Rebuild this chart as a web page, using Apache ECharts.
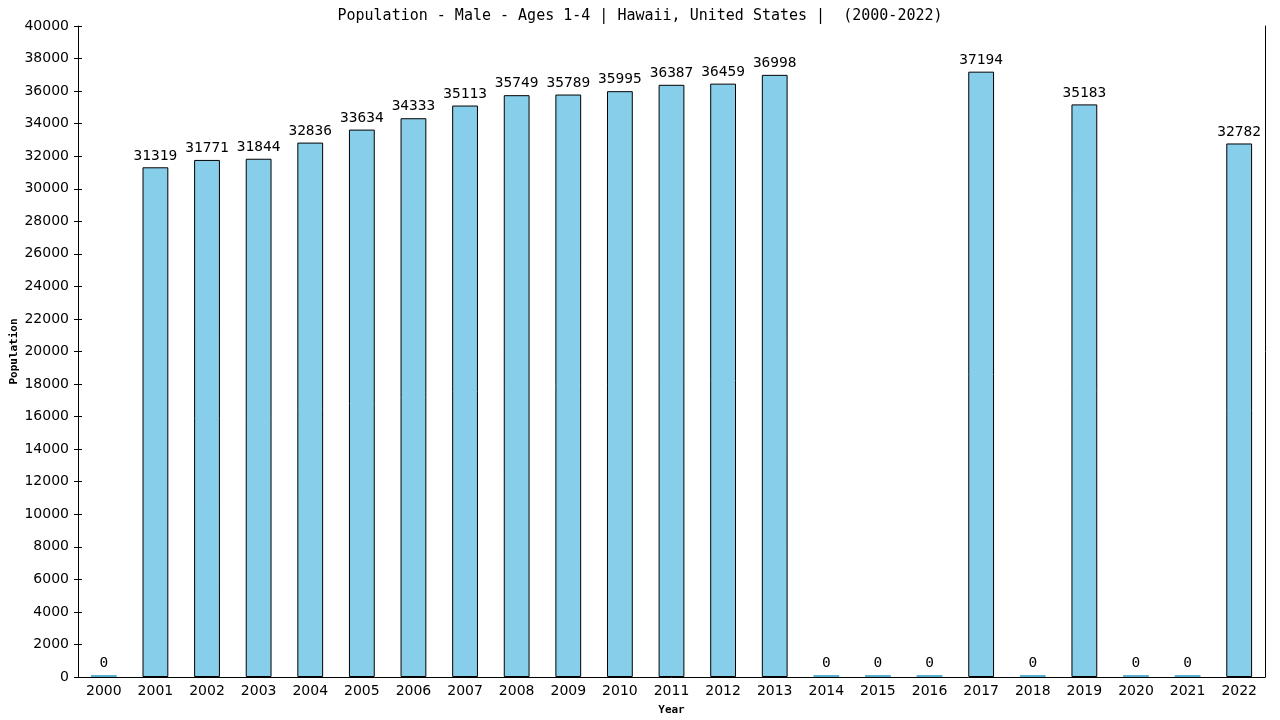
<!DOCTYPE html>
<html>
<head>
    <meta charset="utf-8">
    <title>Population - Male - Ages 1-4</title>
    <script src="https://cdn.jsdelivr.net/npm/echarts@6/dist/echarts.min.js"></script>
</head>
<body style="margin:0;background-color:#fff;">
    <div id="main" style="width:1280px;height:720px;"></div>
    <script type="text/javascript">
        // 年份
        var years = ['2000', '2001', '2002', '2003', '2004', '2005', '2006', '2007', '2008', '2009', '2010', '2011',
            '2012', '2013', '2014', '2015', '2016', '2017', '2018', '2019', '2020', '2021', '2022'];

        // 人口
        var population = [0, 31319, 31771, 31844, 32836, 33634, 34333, 35113, 35749, 35789, 35995, 36387,
            36459, 36998, 0, 0, 0, 37194, 0, 35183, 0, 0, 32782];

        // 纵轴范围
        var yMin = 0;
        var yMax = 40000;
        var yStep = 2000;

        var monoFont = 'DejaVu Sans Mono';
        var axisFont = 'DejaVu Sans';

        var myChart = echarts.init(document.getElementById('main'));

        // 为 0 的年份只画一条浅蓝细线
        var barData = population.map(function (v) {
            if (v === 0) {
                return { value: v, itemStyle: { borderWidth: 0, color: '#5aaed0' } };
            }
            return v;
        });

        var option = {
            animation: false,
            backgroundColor: '#fff',
            title: {
                text: 'Population - Male - Ages 1-4 | Hawaii, United States |  (2000-2022)',
                left: 'center',
                top: 4,
                textStyle: { fontFamily: monoFont, fontSize: 15, fontWeight: 'normal', color: '#000' }
            },
            grid: {
                left: 78,
                right: 15,
                top: 26,
                bottom: 43,
                outerBoundsMode: 'none'
            },
            xAxis: {
                type: 'category',
                data: years,
                name: 'Year',
                nameLocation: 'middle',
                nameGap: 28,
                nameMoveOverlap: false,
                nameTextStyle: { fontFamily: monoFont, fontSize: 11, fontWeight: 'bold', color: '#000' },
                axisLine: { lineStyle: { color: '#000', width: 1 } },
                axisTick: { show: false },
                axisLabel: { fontFamily: axisFont, fontSize: 14, color: '#000', margin: 7, interval: 0 }
            },
            yAxis: [
                {
                    type: 'value',
                    min: yMin,
                    max: yMax,
                    interval: yStep,
                    name: 'Population',
                    nameLocation: 'middle',
                    nameGap: 58,
                    nameMoveOverlap: false,
                    nameTextStyle: { fontFamily: monoFont, fontSize: 11, fontWeight: 'bold', color: '#000' },
                    axisLine: { show: true, lineStyle: { color: '#000', width: 1 } },
                    axisTick: { show: true, length: 4, lineStyle: { color: '#000' } },
                    axisLabel: {
                        fontFamily: axisFont, fontSize: 14, color: '#000', margin: 9,
                        formatter: function (v) { return String(v); }
                    },
                    splitLine: { show: false }
                },
                {
                    type: 'value',
                    position: 'left',
                    min: yMin,
                    max: yMax,
                    interval: yStep,
                    axisLine: { show: false },
                    axisTick: { show: true, inside: true, length: 4, lineStyle: { color: '#000' } },
                    axisLabel: { show: false },
                    splitLine: { show: false }
                },
                {
                    type: 'value',
                    position: 'right',
                    min: yMin,
                    max: yMax,
                    interval: yStep,
                    axisLine: { show: true, lineStyle: { color: '#000', width: 1 } },
                    axisTick: { show: false },
                    axisLabel: { show: false },
                    splitLine: { show: false }
                }
            ],
            series: [
                {
                    name: 'Population',
                    type: 'bar',
                    data: barData,
                    barWidth: '50%',
                    barMinHeight: 2,
                    itemStyle: { color: '#87ceeb', borderColor: '#000', borderWidth: 1 },
                    label: {
                        show: true,
                        position: 'top',
                        distance: 4,
                        fontFamily: monoFont,
                        fontSize: 14.5,
                        color: '#000'
                    }
                }
            ]
        };

        myChart.setOption(option);
    </script>
</body>
</html>
